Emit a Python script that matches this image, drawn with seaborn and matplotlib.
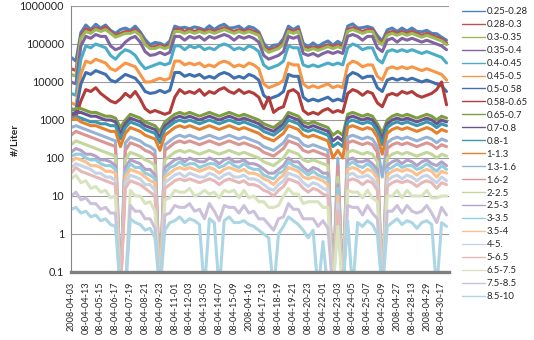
import numpy as np
import pandas as pd
import matplotlib
matplotlib.use('Agg')
import matplotlib.pyplot as plt
import seaborn as sns

# particle size bins (legend order)
size_bins = ['0.25-0.28', '0.28-0.3', '0.3-0.35', '0.35-0.4', '0.4-0.45', '0.45-0.5',
             '0.5-0.58', '0.58-0.65', '0.65-0.7', '0.7-0.8', '0.8-1', '1-1.3',
             '1.3-1.6', '1.6-2', '2-2.5', '2.5-3', '3-3.5', '3.5-4',
             '4-5.', '5-6.5', '6.5-7.5', '7.5-8.5', '8.5-10']

tick_labels = ['2008-04-03', '08-04-04-13', '08-04-05-15', '08-04-06-17', '08-04-07-19',
               '08-04-08-21', '08-04-09-23', '08-04-11-01', '08-04-12-03', '08-04-13-05',
               '08-04-14-07', '08-04-15-09', '2008-04-16', '08-04-17-13', '08-04-18-19',
               '08-04-19-21', '08-04-20-23', '08-04-22-01', '08-04-23-03', '08-04-24-05',
               '08-04-25-07', '08-04-26-09', '2008-04-27', '08-04-28-13', '2008-04-29',
               '08-04-30-17']

# log10 of concentration (#/Liter) (-1.5 = zero counts)
log_s01 = [4.65, 4.55, 5.3, 5.5, 5.38, 5.52, 5.42, 5.5, 5.36, 5.28, 5.38, 5.42, 5.36,
           5.47, 5.32, 5.12, 4.98, 5.04, 5.02, 4.96, 5.08, 5.47, 5.42, 5.44, 5.4, 5.45,
           5.42, 5.37, 5.48, 5.38, 5.47, 5.52, 5.42, 5.43, 5.47, 5.37, 5.46, 5.42, 5.32,
           5.02, 4.88, 4.97, 4.98, 5.14, 5.47, 5.38, 5.46, 5.02, 4.93, 5.03, 4.93, 5.02,
           5.08, 4.97, 5.07, 4.98, 5.47, 5.53, 5.42, 5.43, 5.46, 5.42, 5.22, 5.08, 5.37,
           5.42, 5.33, 5.42, 5.34, 5.42, 5.33, 5.32, 5.36, 5.28, 5.27, 5.18, 5.1]
log_s02 = [4.35, 4.3, 5.2, 5.4, 5.35, 5.42, 5.38, 5.45, 5.33, 5.22, 5.28, 5.33, 5.32,
           5.38, 5.27, 5.02, 4.92, 4.93, 4.97, 4.92, 4.98, 5.38, 5.4, 5.33, 5.38, 5.33,
           5.38, 5.33, 5.38, 5.33, 5.38, 5.43, 5.38, 5.33, 5.38, 5.33, 5.38, 5.33, 5.28,
           4.93, 4.83, 4.88, 4.93, 5.03, 5.38, 5.33, 5.38, 4.93, 4.88, 4.93, 4.88, 4.93,
           4.98, 4.93, 4.98, 4.93, 5.38, 5.43, 5.38, 5.33, 5.38, 5.38, 5.13, 5.03, 5.28,
           5.33, 5.28, 5.33, 5.28, 5.33, 5.28, 5.23, 5.28, 5.23, 5.18, 5.13, 5.03]
log_s03 = [4.2, 4.15, 5.15, 5.33, 5.28, 5.38, 5.33, 5.38, 5.28, 5.18, 5.23, 5.28, 5.28,
           5.33, 5.23, 4.98, 4.88, 4.88, 4.93, 4.88, 4.93, 5.33, 5.33, 5.28, 5.33, 5.28,
           5.33, 5.28, 5.33, 5.28, 5.33, 5.38, 5.33, 5.28, 5.33, 5.28, 5.33, 5.28, 5.23,
           4.88, 4.78, 4.83, 4.88, 4.98, 5.33, 5.28, 5.33, 4.88, 4.83, 4.88, 4.83, 4.88,
           4.93, 4.88, 4.93, 4.88, 5.33, 5.38, 5.33, 5.28, 5.33, 5.33, 5.08, 4.98, 5.23,
           5.28, 5.23, 5.28, 5.23, 5.28, 5.23, 5.18, 5.23, 5.18, 5.13, 5.08, 4.98]
log_s04 = [4.0, 3.95, 4.95, 5.2, 5.15, 5.25, 5.2, 5.2, 4.95, 4.85, 4.9, 5.05, 5.15,
           5.2, 5.05, 4.8, 4.7, 4.72, 4.78, 4.72, 4.78, 5.2, 5.2, 5.1, 5.2, 5.15,
           5.2, 5.1, 5.2, 5.15, 5.2, 5.25, 5.2, 5.1, 5.2, 5.15, 5.2, 5.15, 5.05,
           4.7, 4.6, 4.65, 4.7, 4.8, 5.2, 5.15, 5.2, 4.75, 4.7, 4.75, 4.68, 4.75,
           4.8, 4.75, 4.8, 4.75, 5.2, 5.25, 5.2, 5.1, 5.2, 5.2, 4.9, 4.8, 5.1,
           5.15, 5.05, 5.15, 5.1, 5.15, 5.1, 5.05, 5.1, 5.05, 5.0, 4.95, 4.85]
log_s05 = [3.7, 3.65, 4.6, 4.95, 4.9, 5.0, 4.95, 4.9, 4.7, 4.6, 4.75, 4.85, 4.8,
           4.7, 4.5, 4.35, 4.4, 4.45, 4.5, 4.45, 4.5, 4.95, 4.95, 4.85, 4.95, 4.9,
           4.95, 4.85, 4.9, 4.85, 4.95, 5.0, 4.95, 4.85, 4.9, 4.85, 4.95, 4.9, 4.8,
           4.45, 4.35, 4.4, 4.45, 4.55, 4.95, 4.9, 4.9, 4.45, 4.4, 4.45, 4.4, 4.45,
           4.5, 4.45, 4.5, 4.45, 4.9, 5.0, 4.95, 4.85, 4.9, 4.9, 4.6, 4.5, 4.8,
           4.85, 4.8, 4.85, 4.8, 4.85, 4.8, 4.75, 4.8, 4.75, 4.7, 4.65, 4.5]
log_s06 = [3.45, 3.4, 4.2, 4.55, 4.5, 4.6, 4.55, 4.5, 4.35, 4.3, 4.4, 4.5, 4.45,
           4.4, 4.2, 4.0, 4.0, 4.05, 4.1, 4.05, 4.1, 4.55, 4.55, 4.45, 4.5, 4.45,
           4.5, 4.4, 4.45, 4.4, 4.5, 4.55, 4.5, 4.4, 4.45, 4.4, 4.5, 4.45, 4.35,
           3.95, 3.85, 3.9, 3.95, 4.05, 4.5, 4.45, 4.45, 3.95, 3.85, 3.9, 3.85, 3.9,
           3.95, 3.85, 3.9, 3.85, 4.45, 4.55, 4.5, 4.4, 4.45, 4.45, 4.15, 4.05, 4.35,
           4.4, 4.35, 4.4, 4.35, 4.4, 4.35, 4.3, 4.35, 4.3, 4.25, 4.2, 4.05]
log_s07 = [3.3, 3.25, 3.95, 4.25, 4.2, 4.3, 4.25, 4.2, 4.05, 4.0, 4.1, 4.2, 4.15,
           4.1, 3.95, 3.75, 3.7, 3.72, 3.78, 3.72, 3.78, 4.25, 4.25, 4.15, 4.2, 4.15,
           4.2, 4.1, 4.15, 4.1, 4.2, 4.25, 4.2, 4.1, 4.15, 4.1, 4.2, 4.15, 4.05,
           3.65, 3.55, 3.6, 3.65, 3.75, 4.2, 4.15, 4.15, 3.6, 3.5, 3.55, 3.5, 3.55,
           3.6, 3.5, 3.55, 3.5, 4.15, 4.25, 4.2, 4.1, 4.15, 4.15, 3.85, 3.75, 4.05,
           4.1, 4.05, 4.1, 4.05, 4.1, 4.05, 4.0, 4.05, 4.0, 3.95, 3.9, 3.75]
log_s08 = [3.15, 3.1, 3.5, 3.8, 3.75, 3.85, 3.7, 3.6, 3.5, 3.45, 3.55, 3.7, 3.6,
           3.75, 3.55, 3.3, 3.2, 3.25, 3.2, 3.15, 3.2, 3.6, 3.8, 3.7, 3.75, 3.7,
           3.8, 3.65, 3.75, 3.7, 3.8, 3.85, 3.75, 3.7, 3.8, 3.7, 3.75, 3.7, 3.6,
           3.3, 3.6, 3.2, 3.3, 3.35, 3.75, 3.8, 3.7, 3.25, 3.15, 3.2, 3.15, 3.25,
           3.3, 3.2, 3.25, 3.2, 3.7, 3.8, 3.75, 3.65, 3.75, 3.7, 3.45, 3.35, 3.65,
           3.7, 3.65, 3.75, 3.7, 3.75, 3.65, 3.6, 3.65, 3.7, 3.8, 4.0, 3.4]
log_s09 = [3.25, 3.3, 3.3, 3.25, 3.2, 3.2, 3.15, 3.1, 3.1, 3.05, 2.8, 3.0, 3.15,
           3.1, 3.05, 2.95, 2.9, 2.85, 2.7, 2.95, 3.05, 3.15, 3.2, 3.15, 3.2, 3.15,
           3.1, 3.15, 3.2, 3.15, 3.1, 3.15, 3.2, 3.15, 3.1, 3.15, 3.1, 3.05, 3.0,
           2.9, 2.85, 2.8, 2.9, 3.0, 3.2, 3.15, 3.1, 2.95, 2.9, 2.95, 2.9, 2.85,
           2.8, 2.6, 2.7, 2.6, 3.15, 3.2, 3.15, 3.1, 3.15, 3.1, 2.9, 2.65, 3.0,
           3.1, 3.15, 3.1, 3.15, 3.1, 3.05, 3.1, 3.15, 3.1, 3.0, 3.1, 3.05]
log_s10 = [3.15, 3.2, 3.2, 3.15, 3.1, 3.1, 3.05, 3.0, 3.0, 2.95, 2.65, 2.9, 3.05,
           3.0, 2.95, 2.85, 2.8, 2.75, 2.55, 2.85, 2.95, 3.05, 3.1, 3.05, 3.1, 3.05,
           3.0, 3.05, 3.1, 3.05, 3.0, 3.05, 3.1, 3.05, 3.0, 3.05, 3.0, 2.95, 2.9,
           2.8, 2.75, 2.7, 2.8, 2.9, 3.1, 3.05, 3.0, 2.85, 2.8, 2.85, 2.8, 2.75,
           2.7, 2.45, 2.55, 2.45, 3.05, 3.1, 3.05, 3.0, 3.05, 3.0, 2.8, 2.5, 2.9,
           3.0, 3.05, 3.0, 3.05, 3.0, 2.95, 3.0, 3.05, 3.0, 2.9, 3.0, 2.95]
log_s11 = [3.05, 3.1, 3.05, 3.0, 2.95, 2.95, 2.9, 2.9, 2.85, 2.85, 2.5, 2.8, 2.95,
           2.9, 2.85, 2.75, 2.7, 2.65, 2.4, 2.75, 2.85, 2.95, 3.0, 2.95, 3.0, 2.95,
           2.9, 2.95, 3.0, 2.95, 2.9, 2.95, 3.0, 2.95, 2.9, 2.95, 2.9, 2.85, 2.8,
           2.7, 2.65, 2.6, 2.7, 2.8, 3.0, 2.95, 2.9, 2.75, 2.7, 2.75, 2.7, 2.65,
           2.6, 2.3, 2.4, 2.3, 2.95, 3.0, 2.95, 2.9, 2.95, 2.9, 2.7, 2.35, 2.8,
           2.9, 2.95, 2.9, 2.95, 2.9, 2.85, 2.9, 2.95, 2.9, 2.8, 2.9, 2.85]
log_s12 = [3.0, 3.05, 2.95, 2.9, 2.85, 2.85, 2.8, 2.75, 2.7, 2.7, 2.3, 2.65, 2.8,
           2.75, 2.7, 2.6, 2.55, 2.5, 2.2, 2.6, 2.7, 2.8, 2.85, 2.8, 2.85, 2.8,
           2.75, 2.8, 2.85, 2.8, 2.75, 2.8, 2.85, 2.8, 2.75, 2.8, 2.75, 2.7, 2.65,
           2.55, 2.5, 2.45, 2.55, 2.65, 2.85, 2.8, 2.75, 2.6, 2.55, 2.6, 2.55, 2.5,
           2.45, 2.0, 2.2, 2.0, 2.8, 2.85, 2.8, 2.75, 2.8, 2.75, 2.55, 2.1, 2.65,
           2.75, 2.8, 2.75, 2.8, 2.75, 2.7, 2.75, 2.8, 2.75, 2.65, 2.75, 2.7]
log_s13 = [2.8, 2.85, 2.8, 2.75, 2.7, 2.65, 2.6, 2.55, 2.5, 2.45, -1.5, 2.4, 2.55,
           2.5, 2.45, 2.35, 2.3, 2.2, -1.5, 2.35, 2.45, 2.55, 2.6, 2.55, 2.6, 2.55,
           2.5, 2.55, 2.6, 2.55, 2.5, 2.55, 2.6, 2.55, 2.5, 2.55, 2.5, 2.45, 2.4,
           2.3, 2.25, 2.2, 2.3, 2.4, 2.6, 2.55, 2.5, 2.35, 2.3, 2.35, 2.3, 2.25,
           2.2, -1.5, 2.0, -1.5, 2.55, 2.6, 2.55, 2.5, 2.55, 2.5, 2.3, 1.5, 2.4,
           2.5, 2.55, 2.5, 2.55, 2.5, 2.45, 2.5, 2.55, 2.5, 2.4, 2.5, 2.45]
log_s14 = [2.6, 2.7, 2.65, 2.6, 2.55, 2.5, 2.45, 2.4, 2.35, 2.3, -1.5, 2.2, 2.4,
           2.35, 2.3, 2.2, 2.15, 2.05, -1.5, 2.2, 2.3, 2.4, 2.45, 2.4, 2.45, 2.4,
           2.35, 2.4, 2.45, 2.4, 2.35, 2.4, 2.45, 2.4, 2.35, 2.4, 2.35, 2.3, 2.25,
           2.15, 2.1, 2.05, 2.15, 2.25, 2.45, 2.4, 2.35, 2.2, 2.15, 2.2, 2.15, 2.1,
           2.05, -1.5, 1.8, -1.5, 2.4, 2.45, 2.4, 2.35, 2.4, 2.35, 2.15, -1.5, 2.25,
           2.35, 2.4, 2.35, 2.4, 2.35, 2.3, 2.35, 2.4, 2.35, 2.25, 2.35, 2.3]
log_s15 = [2.35, 2.45, 2.4, 2.35, 2.3, 2.25, 2.2, 2.15, 2.1, 2.05, -1.5, 1.95, 2.15,
           2.1, 2.05, 1.95, 1.9, 1.8, -1.5, 1.95, 2.05, 2.15, 2.2, 2.15, 2.2, 2.15,
           2.1, 2.15, 2.2, 2.15, 2.1, 2.15, 2.2, 2.15, 2.1, 2.15, 2.1, 2.05, 2.0,
           1.9, 1.85, 1.8, 1.9, 2.0, 2.2, 2.15, 2.1, 1.95, 1.9, 1.95, 1.9, 1.85,
           1.8, -1.5, 1.5, -1.5, 2.15, 2.2, 2.15, 2.1, 2.15, 2.1, 1.9, -1.5, 2.0,
           2.1, 2.15, 2.1, 2.15, 2.1, 2.05, 2.1, 2.15, 2.1, 2.0, 2.1, 2.05]
log_s16 = [2.15, 2.25, 2.2, 2.1, 2.1, 2.05, 1.95, 1.95, 1.9, 1.8, -1.5, 1.75, 1.95,
           1.9, 1.85, 1.7, 1.7, 1.55, -1.5, 1.75, 1.85, 1.95, 2.0, 1.9, 2.0, 1.95,
           1.9, 1.9, 2.0, 1.95, 1.85, 1.95, 2.0, 1.9, 1.9, 1.95, 1.85, 1.85, 1.8,
           1.7, 1.6, 1.6, 1.7, 1.8, 2.0, 1.9, 1.9, 1.75, 1.65, 1.75, 1.7, 1.6,
           1.6, -1.5, 1.3, -1.5, 1.95, 2.0, 1.9, 1.9, 1.95, 1.85, 1.7, -1.5, 1.8,
           1.9, 1.95, 1.85, 1.95, 1.9, 1.8, 1.9, 1.95, 1.85, 1.8, 1.9, 1.8]
log_s17 = [2.05, 2.1, 2.1, 2.0, 1.95, 1.95, 1.85, 1.8, 1.8, 1.7, -1.5, 1.6, 1.85,
           1.75, 1.75, 1.6, 1.55, 1.45, -1.5, 1.6, 1.75, 1.8, 1.9, 1.8, 1.85, 1.85,
           1.75, 1.8, 1.85, 1.85, 1.75, 1.8, 1.9, 1.8, 1.75, 1.85, 1.75, 1.7, 1.7,
           1.55, 1.5, 1.45, 1.6, 1.65, 1.9, 1.8, 1.75, 1.65, 1.55, 1.65, 1.55, 1.5,
           1.45, -1.5, 1.2, -1.5, 1.8, 1.9, 1.8, 1.75, 1.85, 1.75, 1.55, -1.5, 1.7,
           1.75, 1.85, 1.75, 1.8, 1.8, 1.7, 1.75, 1.85, 1.75, 1.65, 1.8, 1.7]
log_s18 = [1.9, 2.0, 1.95, 1.9, 1.8, 1.8, 1.75, 1.65, 1.65, 1.6, -1.5, 1.5, 1.7,
           1.65, 1.6, 1.5, 1.4, 1.35, -1.5, 1.5, 1.6, 1.7, 1.75, 1.7, 1.75, 1.7,
           1.65, 1.7, 1.75, 1.7, 1.6, 1.7, 1.75, 1.7, 1.65, 1.7, 1.6, 1.6, 1.55,
           1.45, 1.4, 1.3, 1.45, 1.55, 1.75, 1.7, 1.65, 1.5, 1.45, 1.5, 1.45, 1.4,
           1.3, -1.5, 1.0, -1.5, 1.7, 1.75, 1.7, 1.6, 1.7, 1.65, 1.45, -1.5, 1.55,
           1.65, 1.7, 1.65, 1.7, 1.65, 1.55, 1.65, 1.7, 1.65, 1.5, 1.65, 1.6]
log_s19 = [1.75, 1.85, 1.8, 1.75, 1.7, 1.6, 1.6, 1.5, 1.5, 1.4, -1.5, 1.35, 1.55,
           1.5, 1.45, 1.3, 1.3, 1.15, -1.5, 1.35, 1.45, 1.55, 1.6, 1.5, 1.6, 1.55,
           1.5, 1.5, 1.6, 1.55, 1.45, 1.55, 1.6, 1.5, 1.5, 1.55, 1.45, 1.45, 1.4,
           1.3, 1.2, 1.15, 1.3, 1.4, 1.6, 1.55, 1.5, 1.35, 1.25, 1.35, 1.3, 1.2,
           1.15, -1.5, 0.8, -1.5, 1.55, 1.6, 1.5, 1.5, 1.55, 1.45, 1.3, -1.5, 1.4,
           1.5, 1.55, 1.45, 1.55, 1.5, 1.4, 1.5, 1.55, 1.45, 1.35, 1.5, 1.4]
log_s20 = [1.6, 1.75, 1.65, 1.6, 1.55, 1.5, 1.45, 1.4, 1.35, 1.3, -1.5, 1.2, 1.4,
           1.35, 1.3, 1.2, 1.1, 1.0, -1.5, 1.2, 1.3, 1.4, 1.45, 1.4, 1.45, 1.4,
           1.35, 1.4, 1.45, 1.4, 1.3, 1.4, 1.45, 1.4, 1.35, 1.4, 1.3, 1.3, 1.25,
           1.15, 1.1, 1.0, 1.15, 1.25, 1.45, 1.4, 1.35, 1.2, 1.1, 1.2, 1.15, 1.05,
           1.0, -1.5, 0.6, -1.5, 1.4, 1.45, 1.4, 1.3, 1.4, 1.35, 1.15, -1.5, 1.25,
           1.35, 1.4, 1.35, 1.4, 1.35, 1.25, 1.35, 1.4, 1.35, 1.2, 1.35, 1.3]
log_s21 = [1.45, 1.55, 1.35, 1.4, 1.2, 1.25, 1.1, 1.15, 0.95, 1.0, -1.5, -1.5, 1.15,
           1.0, 1.0, 0.8, 0.85, 0.6, -1.5, 0.9, 0.95, 1.15, 1.1, 1.1, 1.2, 1.0,
           1.05, 1.15, 1.05, 1.1, 0.95, 1.15, 1.1, 1.15, 0.95, 1.15, 0.95, 1.0, 0.85,
           0.85, 0.7, 0.7, 0.75, 1.0, 1.2, 1.05, 1.05, 0.8, 0.85, 0.85, 0.85, 0.7,
           0.7, -1.5, 0.2, -1.5, 1.15, 1.1, 1.1, 0.95, 1.15, 0.95, 0.85, -1.5, 1.0,
           1.0, 1.15, 0.95, 1.15, 1.0, 1.0, 1.0, 1.15, 0.95, 0.95, 1.0, 1.0]
log_s22 = [1.0, 1.1, 0.9, 0.95, 0.8, 0.8, 0.65, 0.7, 0.55, 0.55, -1.5, -1.5, 0.75,
           0.6, 0.6, 0.4, 0.4, 0.15, -1.5, 0.5, 0.55, 0.75, 0.7, 0.7, 0.8, 0.6,
           0.65, 0.4, 0.8, 0.6, 0.35, 0.75, 0.7, 0.7, 0.55, 0.75, 0.55, 0.6, 0.4,
           0.4, 0.25, 0.1, 0.4, 0.45, 0.8, 0.65, 0.65, 0.4, 0.4, 0.4, 0.2, 0.35,
           0.15, -1.5, -1.5, -1.5, 0.75, 0.7, 0.7, 0.5, 0.75, 0.55, 0.4, -1.5, 0.6,
           0.6, 0.75, 0.55, 0.75, 0.6, 0.55, 0.6, 0.75, 0.55, 0.3, 0.7, 0.5]
log_s23 = [0.65, 0.7, 0.55, 0.6, 0.45, 0.5, 0.35, 0.4, 0.25, 0.2, -1.5, -1.5, 0.4,
           0.3, 0.25, 0.1, 0.15, -0.1, -1.5, 0.1, 0.3, 0.35, 0.45, 0.3, 0.4, 0.35,
           0.25, -1.5, 0.4, 0.3, -1.5, 0.35, 0.45, 0.3, 0.3, 0.35, 0.25, 0.2, 0.1,
           0.0, -0.1, -1.5, 0.0, 0.2, 0.45, 0.35, 0.25, 0.1, -0.1, 0.1, -1.5, -0.2,
           -1.5, -1.5, -1.5, -1.5, 0.35, -1.5, 0.3, 0.2, 0.35, 0.25, 0.0, -1.5, 0.2,
           0.3, 0.4, 0.25, 0.35, 0.3, 0.15, 0.3, 0.35, 0.25, -1.5, 0.3, 0.2]

# Excel 2007 default series colours
colors = ['#4F81BD', '#C0504D', '#9BBB59', '#8064A2', '#4BACC6', '#F79646',
          '#3F6FAE', '#B23C3A', '#7E9C40', '#6A5490', '#3A97B0', '#E4812E',
          '#95B3D7', '#D99694', '#C3D69B', '#B3A2C7', '#93CDDD', '#FAC090',
          '#C6D4E6', '#E6B9B8', '#D7E4BD', '#CCC1DA', '#ACD6E3']

series = [log_s01, log_s02, log_s03, log_s04, log_s05, log_s06, log_s07, log_s08,
          log_s09, log_s10, log_s11, log_s12, log_s13, log_s14, log_s15, log_s16,
          log_s17, log_s18, log_s19, log_s20, log_s21, log_s22, log_s23]

n = len(log_s01)
rows = []
for name, vals in zip(size_bins, series):
    if len(vals) != n:
        print('length mismatch', name, len(vals))
    for i, v in enumerate(vals):
        rows.append((i, name, 10 ** v))
df = pd.DataFrame(rows, columns=['sample', 'size', 'conc'])

sns.set_style('white')
plt.rcParams['font.family'] = ['Lato', 'DejaVu Sans']

fig = plt.figure(figsize=(5.34, 3.4), dpi=100)
ax = fig.add_axes([71 / 534, 68 / 340, 378 / 534, 266 / 340])

sns.lineplot(data=df, x='sample', y='conc', hue='size', hue_order=size_bins,
             palette=colors, linewidth=2.2, estimator=None, sort=False, ax=ax)

ax.set_yscale('log')
ax.set_ylim(0.1, 1e6)
ax.set_xlim(0, 76.5)
yt = [0.1, 1, 10, 100, 1000, 10000, 100000, 1000000]
ax.set_yticks(yt)
ax.set_yticklabels(['0.1', '1', '10', '100', '1000', '10000', '100000', '1000000'],
                   fontsize=7.8, color='#262626')
ax.minorticks_off()
ax.set_xticks(range(0, 3 * len(tick_labels), 3))
ax.set_xticklabels(tick_labels, rotation=90, fontsize=6.6, color='#262626')
ax.tick_params(axis='x', length=0, pad=7)
ax.tick_params(axis='y', length=3, width=0.8, color='#868686', pad=2)
ax.set_xlabel('')
ax.set_ylabel('')
ax.yaxis.grid(True, color='#9a9a9a', linewidth=0.8)
ax.set_axisbelow(True)
for s in ['top', 'right']:
    ax.spines[s].set_visible(False)
ax.spines['left'].set_color('#868686')
ax.spines['left'].set_linewidth(0.8)
ax.spines['bottom'].set_color('#7f7f7f')
ax.spines['bottom'].set_linewidth(2.4)
ax.spines['bottom'].set_zorder(5)

fig.text(15 / 534, 1 - 140 / 340, '#/Liter', rotation=90, fontweight='bold',
         fontsize=7.5, ha='center', va='center', color='#262626')

handles, labels = ax.get_legend_handles_labels()
ax.get_legend().remove()
leg = fig.legend(handles, labels, loc='upper left', bbox_to_anchor=(462 / 534, 1 - 7 / 340),
                 frameon=False, fontsize=6.8, handlelength=2.4, handletextpad=0.2,
                 labelspacing=0.42, borderpad=0, borderaxespad=0)
for line in leg.get_lines():
    line.set_linewidth(1.0)
for t in leg.get_texts():
    t.set_color('#262626')

fig.savefig('out.png', dpi=100)
